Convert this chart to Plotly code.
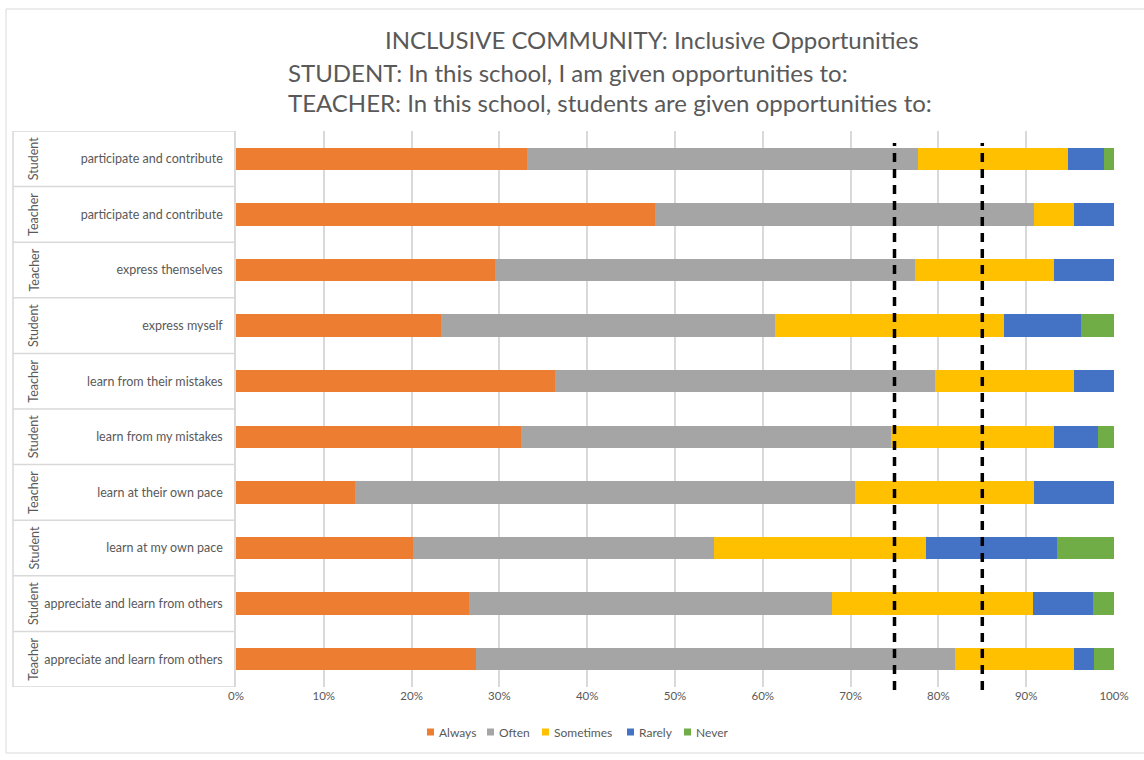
import plotly.graph_objects as go

# Survey rows, top to bottom
groups = ["Student", "Teacher", "Teacher", "Student", "Teacher",
          "Student", "Teacher", "Student", "Student", "Teacher"]
items = ["participate and contribute", "participate and contribute",
         "express themselves", "express myself", "learn from their mistakes",
         "learn from my mistakes", "learn at their own pace",
         "learn at my own pace", "appreciate and learn from others",
         "appreciate and learn from others"]

# Share of responses (%) per answer
always = [33.1, 47.7, 29.5, 23.3, 36.3, 32.5, 13.6, 20.2, 26.5, 27.3]
often = [44.6, 43.2, 47.8, 38.1, 43.3, 42.1, 56.9, 34.2, 41.4, 54.6]
sometimes = [17.1, 4.5, 15.9, 26.1, 15.8, 18.6, 20.4, 24.2, 22.9, 13.5]
rarely = [4.1, 4.6, 6.8, 8.7, 4.6, 5.0, 9.1, 14.9, 6.8, 2.3]
never = [1.1, 0.0, 0.0, 3.8, 0.0, 1.8, 0.0, 6.5, 2.4, 2.3]

answer_names = ["Always", "Often", "Sometimes", "Rarely", "Never"]
answer_colors = ["#ED7D31", "#A5A5A5", "#FFC000", "#4472C4", "#70AD47"]
answer_values = [always, often, sometimes, rarely, never]

thresholds = [75, 85]
x_ticks = list(range(0, 101, 10))

FONT = "Lato, Open Sans, sans-serif"
GREY = "#595959"

# plot-area geometry (pixels) used to place decorations in paper units
L, R, T, B = 236, 30, 131, 73
W, H = 1144 - L - R, 760 - T - B


def px_x(p):
    return (p - L) / W


def px_y(p):
    return (760 - B - p) / H


ypos = list(range(len(items)))
fig = go.Figure()
for name, vals, col in zip(answer_names, answer_values, answer_colors):
    fig.add_trace(go.Bar(
        y=ypos, x=vals, name=name, orientation="h",
        marker=dict(color=col, line=dict(width=0)),
        hoverinfo="x+name", showlegend=False,
    ))

shapes = []
for t in thresholds:
    shapes.append(dict(type="line", xref="x", yref="paper", x0=t, x1=t,
                       y0=px_y(690), y1=px_y(143),
                       line=dict(color="black", width=3.5, dash="9px,7px")))

# side table: outline and row separators
tbl_left = px_x(13)
for i in range(len(items) + 1):
    yb = i - 0.5
    shapes.append(dict(type="line", xref="paper", yref="y", x0=tbl_left, x1=0,
                       y0=yb, y1=yb, line=dict(color="#D9D9D9", width=1.5),
                       layer="below"))
shapes.append(dict(type="line", xref="paper", yref="paper", x0=tbl_left,
                   x1=tbl_left, y0=0, y1=1,
                   line=dict(color="#D9D9D9", width=1.5)))

# chart outer border
shapes.append(dict(type="rect", xref="paper", yref="paper",
                   x0=px_x(6), x1=px_x(1160), y0=px_y(753), y1=px_y(9),
                   line=dict(color="#D9D9D9", width=1)))

annotations = []
for i, g in enumerate(groups):
    annotations.append(dict(text=g, xref="paper", yref="y", x=px_x(24), y=i,
                            textangle=-90, showarrow=False,
                            font=dict(family=FONT, size=12.5, color=GREY)))

title_lines = [
    ("INCLUSIVE COMMUNITY: Inclusive Opportunities", 383, 40),
    ("STUDENT: In this school, I am given opportunities to:", 286, 72),
    ("TEACHER: In this school, students are given opportunities to:", 286, 102),
]
for txt, xl, yc in title_lines:
    annotations.append(dict(text=txt, xref="paper", yref="paper",
                            x=px_x(xl), y=px_y(yc), xanchor="left",
                            yanchor="middle", showarrow=False,
                            font=dict(family=FONT, size=24, color=GREY)))

# compact legend row below the axis
legend_left = [427, 487, 542, 627, 684]
legend_y = 732
for name, col, xl in zip(answer_names, answer_colors, legend_left):
    shapes.append(dict(type="rect", xref="paper", yref="paper",
                       x0=px_x(xl), x1=px_x(xl + 7),
                       y0=px_y(legend_y + 3.5), y1=px_y(legend_y - 3.5),
                       fillcolor=col, line=dict(width=0)))
    annotations.append(dict(text=name, xref="paper", yref="paper",
                            x=px_x(xl + 10), y=px_y(legend_y),
                            xanchor="left", yanchor="middle", showarrow=False,
                            font=dict(family=FONT, size=12, color=GREY)))

fig.update_layout(
    barmode="stack",
    bargap=0.6,
    width=1144, height=760,
    margin=dict(l=L, r=R, t=T, b=B),
    paper_bgcolor="white", plot_bgcolor="white",
    font=dict(family=FONT, color=GREY),
    showlegend=False,
    shapes=shapes,
    annotations=annotations,
    xaxis=dict(range=[0, 100], tickvals=x_ticks,
               ticktext=[f"{v}%" for v in x_ticks],
               showgrid=True, gridcolor="#D9D9D9", gridwidth=1.5,
               zeroline=False, showline=False, ticks="",
               tickfont=dict(family=FONT, size=11.5, color=GREY),
               fixedrange=True),
    yaxis=dict(range=[len(items) - 0.5, -0.5], tickvals=ypos, ticktext=items,
               showgrid=False, zeroline=False, showline=True,
               linecolor="#D9D9D9", linewidth=1.5, ticks="",
               ticklabelstandoff=9,
               tickfont=dict(family=FONT, size=12.5, color=GREY),
               fixedrange=True),
)

fig.write_html("out.html")
